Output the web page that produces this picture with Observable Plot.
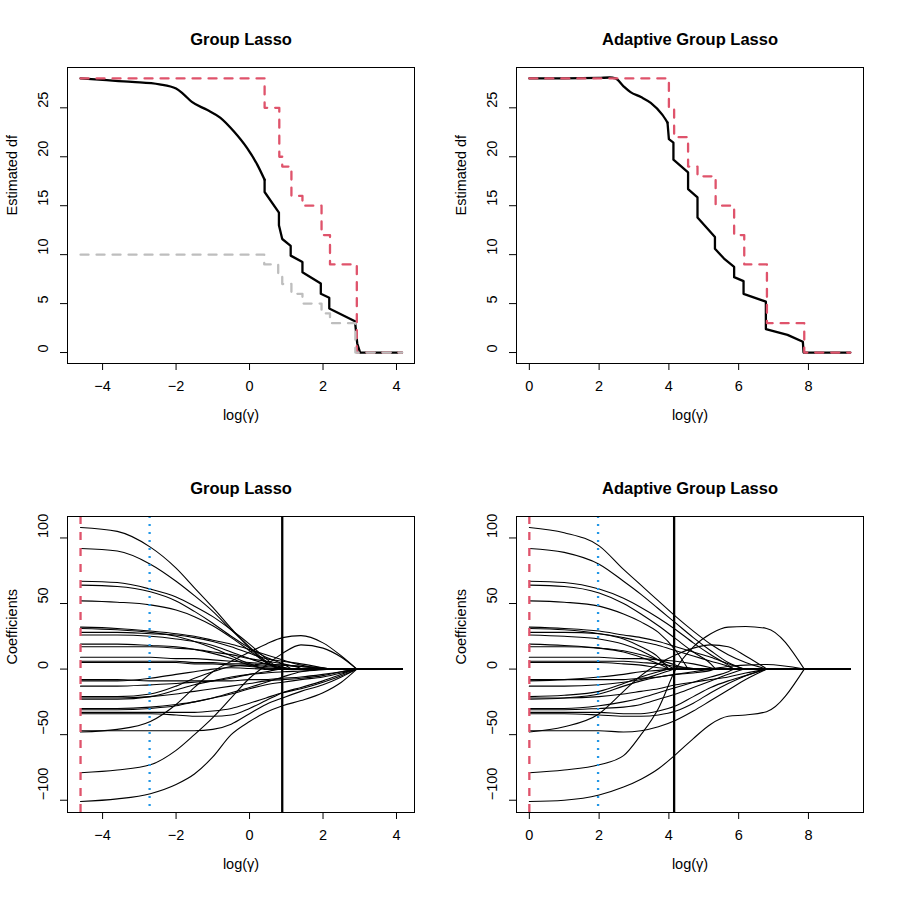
<!DOCTYPE html>
<html><head><meta charset="utf-8">
<script src="https://cdn.jsdelivr.net/npm/d3@7"></script>
<script src="https://cdn.jsdelivr.net/npm/@observablehq/plot@0.6"></script>
<style>
body{margin:0;background:#fff;}
#wrap{position:relative;width:897px;height:897px;background:#fff;}
.panel{position:absolute;width:448px;height:448px;}
</style></head><body><div id="wrap"></div>
<script>
// ---------- tick labels ----------
const glXTicks = [-4, -2, 0, 2, 4];
const aglXTicks = [0, 2, 4, 6, 8];
const dfYTicks = [0, 5, 10, 15, 20, 25];
const coefYTicks = [-100, -50, 0, 50, 100];
const titles = ["Group Lasso", "Adaptive Group Lasso"];

// ---------- panel 1: Group Lasso, estimated df ----------
// smooth part of the df curve
const glDfSmoothX = [-4.6, -4.0, -3.2, -2.45, -2.0, -1.8, -1.57, -1.16, -0.8, -0.43, -0.07, 0.21, 0.41];
const glDfSmoothY = [28, 27.85, 27.65, 27.4, 26.97, 26.4, 25.6, 24.8, 24.0, 22.6, 20.9, 19.2, 17.65];
// jagged part of the df curve
const glDfX = [0.41, 0.41, 0.80, 0.80, 0.89, 1.12, 1.12, 1.44, 1.44, 1.94, 1.94, 2.17, 2.17, 2.87, 2.93, 3.01, 4.15];
const glDfY = [17.65, 16.4, 14.3, 13.0, 11.6, 10.9, 9.9, 9.25, 8.2, 7.05, 6.0, 5.6, 4.5, 3.2, 0.95, 0, 0];
const glStepX = [-4.6, 0.41, 0.81, 0.89, 1.14, 1.44, 1.96, 2.19, 2.92, 4.15];
const glStepY = [28, 25, 20, 19, 16, 15, 12, 9, 0, 0];
const glGroupX = [-4.6, 0.40, 0.78, 0.89, 1.14, 1.44, 1.96, 2.19, 2.88, 4.15];
const glGroupY = [10, 9, 8, 7, 6, 5, 4, 3, 0, 0];

// ---------- panel 2: Adaptive Group Lasso, estimated df ----------
const aglDfSmoothX = [0, 1.0, 2.0, 2.3, 2.47, 2.7, 2.90, 3.2, 3.48, 3.81, 3.96];
const aglDfSmoothY = [28, 28, 28.05, 28.1, 28, 27.2, 26.6, 26.1, 25.5, 24.3, 23.5];
const aglDfX = [3.96, 4.0, 4.13, 4.13, 4.55, 4.55, 4.82, 4.82, 5.32, 5.32, 5.58, 5.87, 5.87, 6.14, 6.14, 6.78, 6.78, 7.40, 7.84, 7.86, 9.2];
const aglDfY = [23.5, 21.8, 21.45, 19.7, 18.4, 16.7, 15.85, 13.8, 11.8, 10.6, 9.6, 8.74, 7.7, 7.3, 6.0, 5.2, 2.4, 1.8, 1.1, 0, 0];
const aglStepX = [0, 4.00, 4.15, 4.55, 4.82, 5.34, 5.87, 6.16, 6.81, 7.88, 9.2];
const aglStepY = [28, 25, 22, 19, 18, 15, 12, 9, 3, 0, 0];

// ---------- panel 3: Group Lasso coefficient paths ----------
const glKnots = [-4.6, -3.6, -2.7, -2.0, -1.5, -1.0, -0.5, 0.0, 0.45, 0.9, 1.4, 2.0, 2.5];
const glZero = [0.81, 0.81, 0.81, 0.81, 0.81, 0.89, 0.41, 0.41, 0.41, 1.14, 1.14, 1.14, 1.44, 1.96, 1.96, 1.96, 2.19, 2.19, 2.19, 2.92, 2.92, 2.92, 2.92, 2.92, 2.92, 2.92, 2.92, 2.92];
const glPaths = [
  [108,105,93,77,62,47,31,16,5],
  [92,90,80,67,56,44,30,17,6],
  [67,66,61,55,48,40,30,19,8],
  [52,51,49,45,40,33,24,14,5],
  [-13,-13,-12,-11,-10,-9,-7,-4,-2],
  [5,5,5,5,4,4,3,2,1],
  [31,30,28,25,21,16,10,4],
  [19,19,18,17,15,12,8,3],
  [-9,-9,-7,-4,-2,0,1,0.5],
  [64,63,59,52,44,35,25,16,9,4],
  [26,26,25,23,21,18,13,8,4,1.5],
  [-21,-21,-19,-13,-7,-2,2,3,2,1],
  [17,17,17,16,15,13,11,8,6,4,0.5],
  [32,31,29,27,25,22,19,15,11,7,3],
  [9,9,9,8,8,7,6,5,4,3,2],
  [-30,-30,-29,-27,-25,-22,-18,-14,-10,-6,-2],
  [28,28,27,26,24,21,17,12,8,6,4,1],
  [6,6,6,6,5,5,4,4,3,3,2,1],
  [-23,-23,-21,-16,-12,-9,-6,-4,-3,-2,-1.5,-0.5],
  [-48,-46,-40,-27,-14,-2,6,13,19,24,25.5,20,10],
  [-79,-77,-73,-62,-50,-37,-22,-7,3,12,18.5,16,9],
  [-101,-99,-95,-88,-80,-67,-50,-40,-33,-28,-24,-18,-10],
  [-22,-22,-21,-19,-17,-15,-13,-11,-9,-8,-7,-5,-2],
  [-31,-31,-30,-28,-25,-22,-19,-15,-12,-10,-8,-6,-3],
  [-33,-33,-33,-33,-33,-32,-30,-26,-22,-18,-15,-10,-5],
  [-34,-34,-34,-35,-36,-36,-35,-30,-24,-18,-14,-9,-4],
  [-47,-47,-47,-47,-47,-46,-42,-34,-27,-22,-17,-12,-6],
  [-8,-8,-9,-9,-9,-9,-9,-8,-8,-7,-6,-4,-2]
];
const glRules = {red: -4.6, blue: -2.72, black: 0.89};

// ---------- panel 4: Adaptive Group Lasso coefficient paths ----------
const aglKnots = [0, 1, 2, 2.7, 3.2, 3.7, 4.2, 4.7, 5.2, 5.7, 6.2, 6.8];
const aglZero = [4.00, 4.00, 4.00, 4.15, 4.15, 4.15, 4.55, 4.55, 4.55, 4.82, 5.34, 5.34, 5.34, 5.87, 5.87, 5.87, 6.16, 6.16, 6.16, 6.81, 6.81, 6.81, 6.81, 6.81, 6.81, 7.88, 7.88, 7.88];
const aglPaths = [
  [31,30,27,23,17,9],
  [19,18,16,13,9,4],
  [-9,-8,-6,-4,-2,-1],
  [26,25,23,19,14,7],
  [5,5,5,4,3,1],
  [-13,-13,-12,-10,-8,-4],
  [52,51,48,42,36,28,14],
  [17,17,16,14,11,7,3],
  [-21,-20,-17,-11,-6,-2,1],
  [6,6,6,6,5,4,2,0.5],
  [64,63,58,50,42,33,23,13,4],
  [9,9,9,8,8,7,6,4,1],
  [-23,-22,-19,-13,-9,-6,-4,-3,-1],
  [67,66,61,54,47,39,30,20,11,3],
  [28,28,27,24,21,18,14,10,6,2],
  [-30,-30,-28,-25,-22,-18,-14,-10,-6,-2],
  [92,89,80,67,57,46,35,24,14,5],
  [32,31,29,26,24,21,17,13,9,4],
  [-31,-31,-30,-29,-27,-23,-19,-14,-9,-4],
  [108,104,94,76,64,52,40,29,19,11,5],
  [-48,-44,-34,-17,-5,4,11,16,18.5,17,10],
  [-22,-22,-21,-19,-17,-15,-12,-10,-8,-6,-3],
  [-33,-33,-33,-34,-34,-32,-28,-21,-14,-9,-5],
  [-34,-34,-35,-36,-36,-35,-32,-26,-18,-11,-5],
  [-47,-47,-47,-48,-47,-44,-39,-32,-24,-16,-8],
  [-79,-77,-73,-66,-50,-30,0,17,27,32,32.5,31],
  [-101,-100,-96,-90,-84,-76,-65,-53,-42,-36,-35,-32.5],
  [-8,-8,-8,-8,-7,-6,-4,-2,0,2,3,3.5]
];
const aglRules = {red: 0, blue: 1.97, black: 4.15};

// ---------- helpers ----------
const RED = "#DF536B", BLUE = "#2297E6", GREY = "#BEBEBE";
const FONT = "'Liberation Sans', Arial, Helvetica, sans-serif";
const fmt = d => d < 0 ? "\u2212" + Math.abs(d) : String(d);
const zip = (xs, ys) => xs.map((x, i) => ({x, y: ys[i]}));

function buildPaths(knots, paths, zeros, xmax) {
  const curve = [], tail = [];
  paths.forEach((p, i) => {
    p.forEach((v, j) => curve.push({id: i, x: knots[j], y: v}));
    curve.push({id: i, x: zeros[i], y: 0});
    tail.push({id: i, x: zeros[i], y: 0}, {id: i, x: xmax, y: 0});
  });
  return {curve, tail};
}

function decor(title, xTicks, yTicks, yLabel) {
  return [
    Plot.axisX({ticks: xTicks, tickSize: 7, tickFormat: () => "", label: null, strokeWidth: 1}),
    Plot.axisY({ticks: yTicks, tickSize: 7, tickFormat: () => "", label: null, strokeWidth: 1}),
    Plot.text(xTicks, {x: d => d, text: fmt, frameAnchor: "bottom", dy: 27, fontSize: 14.5, fill: "black"}),
    Plot.text(yTicks, {y: d => d, text: fmt, frameAnchor: "left", dx: -24, rotate: -90, fontSize: 14.5, fill: "black"}),
    Plot.text([title], {text: d => d, frameAnchor: "top", dy: -34, fontSize: 16.5, fontWeight: "bold", fill: "black"}),
    Plot.text(["log(\u03b3)"], {text: d => d, frameAnchor: "bottom", dy: 56, fontSize: 14.5, fill: "black"}),
    Plot.text([yLabel], {text: d => d, frameAnchor: "left", dx: -55, rotate: -90, fontSize: 14.5, fill: "black"}),
    Plot.frame({stroke: "black", strokeWidth: 1})
  ];
}

const common = {width: 448, height: 448, marginLeft: 67, marginRight: 34, marginTop: 67, marginBottom: 85,
  style: {fontFamily: FONT, background: "white", overflow: "visible"}};

const glDom = [-4.955, 4.49], aglDom = [-0.368, 9.578];
const dfDom = [-1.12, 29.12], coefDom = [-109.36, 116.36];

function dfPanel(title, xDom, xTicks, sX, sY, dfX, dfY, stepX, stepY, groupX, groupY) {
  const marks = [
    Plot.line(zip(sX, sY), {x: "x", y: "y", curve: "monotone-x", stroke: "black", strokeWidth: 2.3}),
    Plot.line(zip(dfX, dfY), {x: "x", y: "y", stroke: "black", strokeWidth: 2.3, strokeLinejoin: "round"}),
    Plot.line(zip(stepX, stepY), {x: "x", y: "y", curve: "step-after", stroke: RED, strokeWidth: 2.3, strokeDasharray: "8,8"})
  ];
  if (groupX) marks.push(Plot.line(zip(groupX, groupY), {x: "x", y: "y", curve: "step-after", stroke: GREY, strokeWidth: 2.3, strokeDasharray: "8,8"}));
  return Plot.plot({...common, x: {domain: xDom}, y: {domain: dfDom},
    marks: [...marks, ...decor(title, xTicks, dfYTicks, "Estimated df")]});
}

function coefPanel(title, xDom, xTicks, knots, paths, zeros, xmax, rules) {
  const {curve, tail} = buildPaths(knots, paths, zeros, xmax);
  return Plot.plot({...common, x: {domain: xDom}, y: {domain: coefDom},
    marks: [
      Plot.line(tail, {x: "x", y: "y", z: "id", stroke: "black", strokeWidth: 1.1}),
      Plot.line(curve, {x: "x", y: "y", z: "id", curve: "monotone-x", stroke: "black", strokeWidth: 1.1}),
      Plot.ruleX([rules.red], {x: d => d, stroke: RED, strokeWidth: 2.3, strokeDasharray: "8,8"}),
      Plot.ruleX([rules.blue], {x: d => d, stroke: BLUE, strokeWidth: 2.3, strokeDasharray: "2,6"}),
      Plot.ruleX([rules.black], {x: d => d, stroke: "black", strokeWidth: 2.3}),
      ...decor(title, xTicks, coefYTicks, "Coefficients")
    ]});
}

const panels = [
  [dfPanel(titles[0], glDom, glXTicks, glDfSmoothX, glDfSmoothY, glDfX, glDfY, glStepX, glStepY, glGroupX, glGroupY), 0, 0],
  [dfPanel(titles[1], aglDom, aglXTicks, aglDfSmoothX, aglDfSmoothY, aglDfX, aglDfY, aglStepX, aglStepY, null, null), 449, 0],
  [coefPanel(titles[0], glDom, glXTicks, glKnots, glPaths, glZero, 4.15, glRules), 0, 449],
  [coefPanel(titles[1], aglDom, aglXTicks, aglKnots, aglPaths, aglZero, 9.2, aglRules), 449, 449]
];
const wrap = document.getElementById("wrap");
for (const [svg, left, top] of panels) {
  const d = document.createElement("div");
  d.className = "panel";
  d.style.left = left + "px";
  d.style.top = top + "px";
  d.appendChild(svg);
  wrap.appendChild(d);
}
</script></body></html>
